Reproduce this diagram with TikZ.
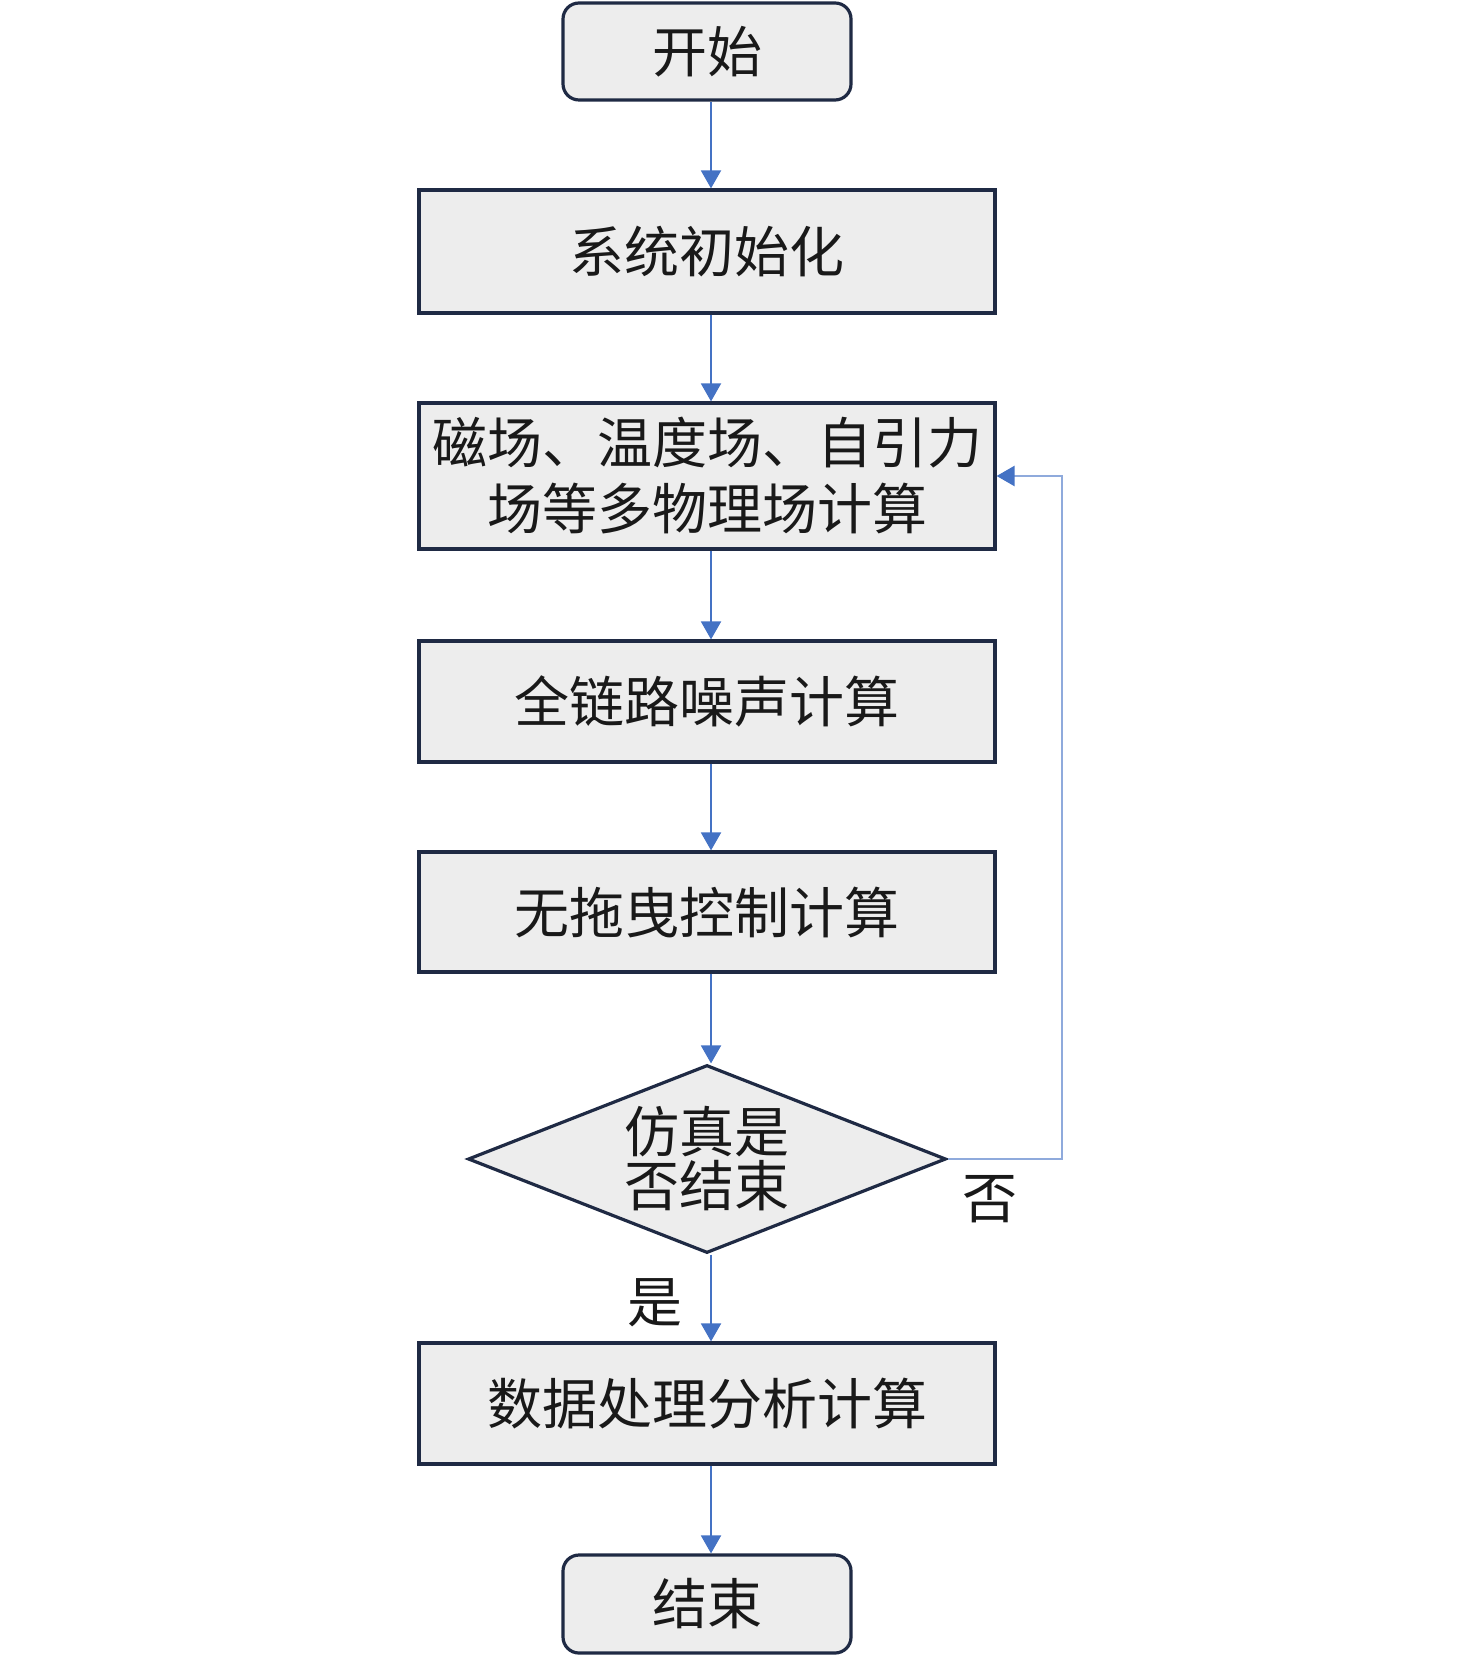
\documentclass[tikz,border=0pt]{standalone}
\usepackage{fontspec}
\newfontfamily\cjk{Noto Sans CJK SC}
\usetikzlibrary{arrows.meta,shapes.geometric}

\definecolor{boxfill}{HTML}{EDEDED}
\definecolor{boxline}{HTML}{1F2A44}
\definecolor{flowblue}{HTML}{4472C4}
\definecolor{backblue}{HTML}{8FAADC}

\tikzset{
	txt/.style={font=\cjk\fontsize{27.5pt}{33pt}\selectfont, text=black!90},
	procbox/.style={txt, draw=boxline, line width=1.6pt, fill=boxfill, rectangle, minimum width=288pt, align=center, inner sep=0pt},
	termbox/.style={procbox, rounded corners=8pt, minimum width=144pt},
	judgebox/.style={txt, draw=boxline, line width=1.6pt, fill=boxfill, diamond, aspect=2.54, inner sep=0pt, minimum width=239pt, minimum height=94pt, align=center},
	flow/.style={draw=flowblue, line width=1pt, -{Triangle[width=10pt,length=9pt]}},
	back/.style={draw=backblue, line width=1.3pt, -{Triangle[width=10pt,length=9pt,color=flowblue]}}
}

\begin{document}
\begin{tikzpicture}[x=0.5pt, y=-0.5pt]
			
			\useasboundingbox (0,0) rectangle (1476,1657);
			
			\node[termbox, minimum height=48.5pt] (start) at (707,51.5) {开始};
			\node[procbox, minimum height=61.5pt] (init) at (707,251.5) {系统初始化};
			\node[procbox, minimum height=73pt] (field) at (707,476) {磁场、温度场、自引力\\场等多物理场计算};
			\node[procbox, minimum height=60.5pt] (noise) at (707,701.5) {全链路噪声计算};
			\node[procbox, minimum height=60pt] (drag) at (707,912) {无拖曳控制计算};
			\node[judgebox, font=\cjk\fontsize{27.5pt}{27pt}\selectfont] (judge) at (707,1159) {仿真是\\否结束};
			\node[procbox, minimum height=60.5pt] (data) at (707,1403.5) {数据处理分析计算};
			\node[termbox, minimum height=49pt] (stop) at (707,1604) {结束};
			
			\coordinate (turn) at (1062,1159);
			
			%% the connectors sit a little right of the box centres
			\draw[flow] ([xshift=2pt]start.south) -- ([xshift=2pt]init.north);
			\draw[flow] ([xshift=2pt]init.south) -- ([xshift=2pt]field.north);
			\draw[flow] ([xshift=2pt]field.south) -- ([xshift=2pt]noise.north);
			\draw[flow] ([xshift=2pt]noise.south) -- ([xshift=2pt]drag.north);
			\draw[flow] ([xshift=2pt]drag.south) -- ([xshift=2pt]judge.north);
			\draw[flow] ([xshift=2pt]judge.south) -- ([xshift=2pt]data.north);
			\draw[flow] ([xshift=2pt]data.south) -- ([xshift=2pt]stop.north);
			\draw[back] (judge.east) -- (turn) |- (field.east);
			
			%% branch labels
			\node[txt] (no) at (990,1199) {否};
			\node[txt] (yes) at (655,1303) {是};
			
		\end{tikzpicture}
\end{document}
